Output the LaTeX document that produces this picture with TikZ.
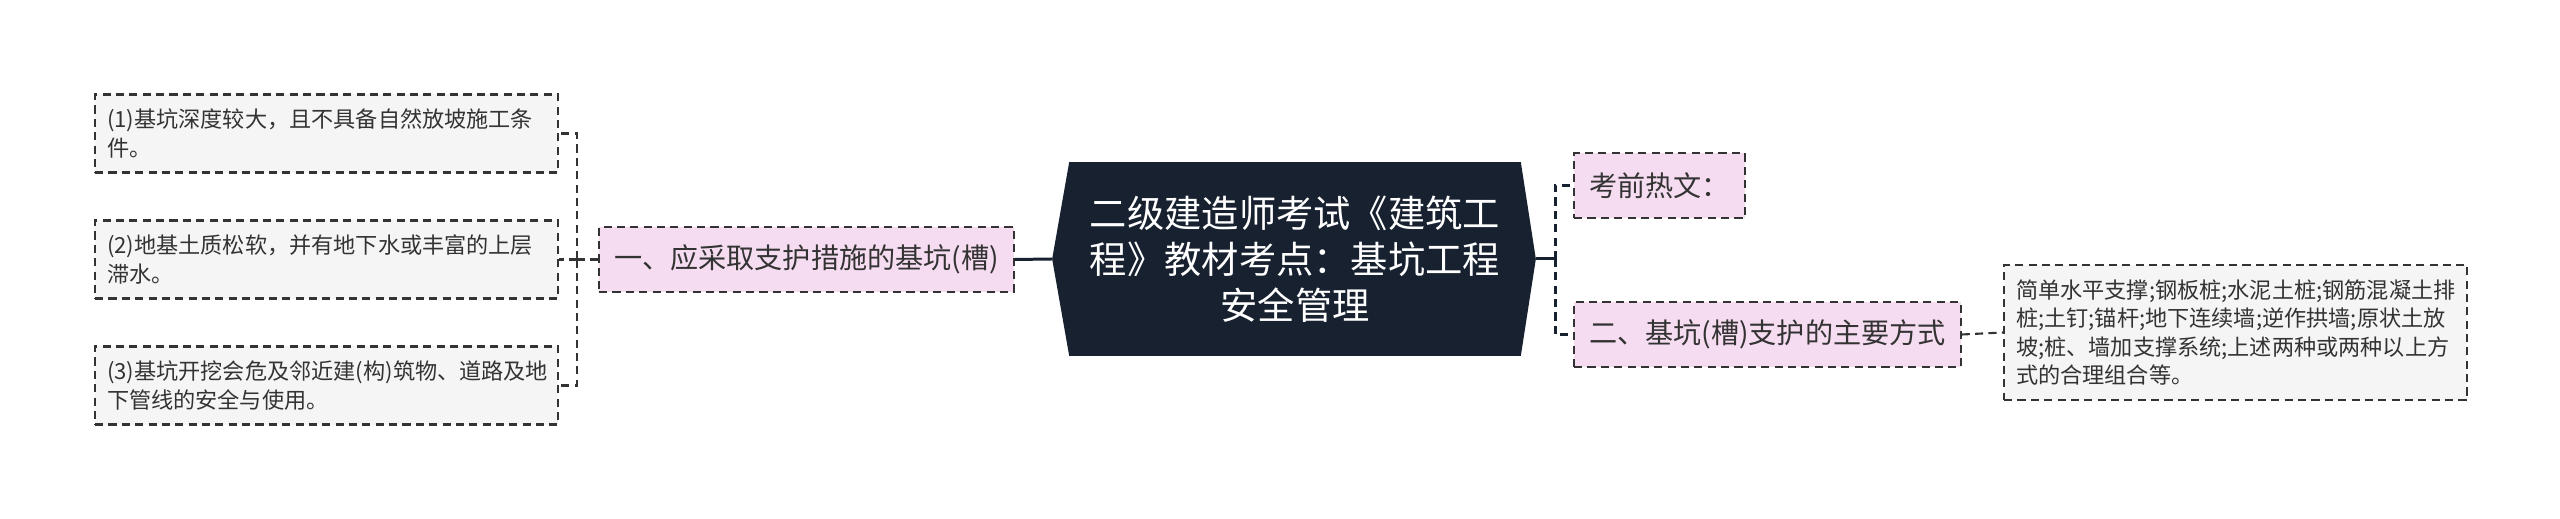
\documentclass[tikz,border=0pt]{standalone}
\usepackage{fontspec}
\usepackage{tikz}
\usetikzlibrary{positioning,backgrounds}
\setmainfont{Noto Sans CJK SC}
\definecolor{navy}{HTML}{17212F}
\definecolor{pinkbox}{HTML}{F5DCF0}
\definecolor{graybox}{HTML}{F5F5F5}
\definecolor{ink}{HTML}{333333}

\begin{document}
\begin{tikzpicture}[x=0.01cm,y=-0.01cm]
  \tikzstyle{link}=[ink,line width=0.6pt,dash pattern=on 2.3pt off 1.5pt]
  \tikzstyle{forklink}=[navy,line width=0.85pt,dash pattern=on 2.3pt off 1.5pt]
  \tikzstyle{solidlink}=[navy,line width=0.85pt]
  \tikzstyle{branch}=[link,draw=ink,fill=pinkbox,text=ink,anchor=west,minimum height=0.65cm,inner xsep=0.15cm,font=\fontsize{8}{10}\selectfont]
  \tikzstyle{leaf}=[link,draw=ink,fill=graybox,text=ink,anchor=west,text width=4.39cm,align=left,inner xsep=0.12cm,minimum height=0.78cm,font=\fontsize{6.3}{8}\selectfont]

  \useasboundingbox (0,0) rectangle (2560,519);

  % central topic
  \node [text=white,align=center,minimum width=4.5cm,minimum height=1.92cm,font=\fontsize{10.6}{13.1}\selectfont] (root) at (1295,259) {二级建造师考试《建筑工\\程》教材考点：基坑工程\\安全管理};
  \coordinate (rootW) at ([xshift=-0.17cm]root.west);
  \coordinate (rootE) at ([xshift=0.15cm]root.east);
  \begin{scope}[on background layer]
    \fill [navy] (root.north west) -- (root.north east) -- (rootE) -- (root.south east) -- (root.south west) -- (rootW) -- cycle;
  \end{scope}

  % branch on left
  \node [branch] (brL) at (598,259.5) {一、应采取支护措施的基坑(槽)};
  \draw [solidlink] (brL.east) -- (rootW);

  % leaves on left
  \node [leaf] (cond1) at (94,133.5) {(1)基坑深度较大，且不具备自然放坡施工条\\件。};
  \node [leaf] (cond2) at (94,259.5) {(2)地基土质松软，并有地下水或丰富的上层\\滞水。};
  \node [leaf] (cond3) at (94,385.5) {(3)基坑开挖会危及邻近建(构)筑物、道路及地\\下管线的安全与使用。};
  \coordinate (lfork) at (577,259.5);
  \draw [link] (brL.west) -- (lfork);
  \draw [link] (lfork) |- (cond1.east);
  \draw [link] (lfork) |- (cond2.east);
  \draw [link] (lfork) |- (cond3.east);

  % branches on right
  \node [branch] (hot) at (1573,185.5) {考前热文：};
  \node [branch] (ways) at (1573,334.5) {二、基坑(槽)支护的主要方式};
  \coordinate (rfork) at (1555,259);
  \draw [solidlink] (rootE) -- (rfork);
  \draw [forklink] (rfork) |- (hot.west);
  \draw [forklink] (rfork) |- (ways.west);

  % leaf on right
  \node [leaf,minimum height=1.35cm] (waysdet) at (2003,332.5) {简单水平支撑;钢板桩;水泥土桩;钢筋混凝土排\\桩;土钉;锚杆;地下连续墙;逆作拱墙;原状土放\\坡;桩、墙加支撑系统;上述两种或两种以上方\\式的合理组合等。};
  \draw [link] (ways.east) -- (waysdet.west);

\end{tikzpicture}
\end{document}
